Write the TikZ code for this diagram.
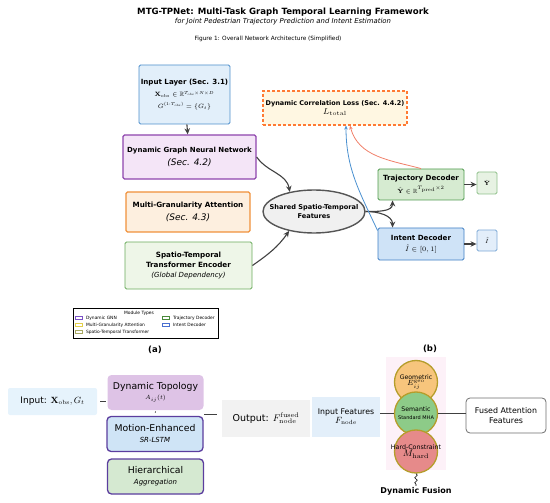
\RequirePackage{fix-cm}
\documentclass[tikz,border=0pt]{standalone}
\usepackage{amsmath,amssymb}
\usepackage[no-math]{fontspec}
\setmainfont{DejaVu Sans}
\usetikzlibrary{arrows.meta, positioning, shapes.geometric, decorations.pathmorphing}

\definecolor{infl}{HTML}{E2EFFA}\definecolor{inbd}{HTML}{4D8FCC}
\definecolor{dgfl}{HTML}{F4E5F7}\definecolor{dgbd}{HTML}{8E44AD}
\definecolor{mgfl}{HTML}{FDEFDF}\definecolor{mgbd}{HTML}{F0913A}
\definecolor{stfl}{HTML}{EEF6E8}\definecolor{stbd}{HTML}{6AAB5C}
\definecolor{elfl}{HTML}{F0F0F0}\definecolor{elbd}{HTML}{555555}
\definecolor{lsfl}{HTML}{FFF7E2}\definecolor{lsbd}{HTML}{FF7A33}
\definecolor{trfl}{HTML}{D6EBD1}\definecolor{trbd}{HTML}{4E9A4E}
\definecolor{itfl}{HTML}{CFE3F7}\definecolor{itbd}{HTML}{3F7FC4}
\definecolor{yhfl}{HTML}{E7F2E3}\definecolor{yhbd}{HTML}{8FC08A}
\definecolor{ihfl}{HTML}{E3EEFA}\definecolor{ihbd}{HTML}{7EA9D6}
\definecolor{agray}{HTML}{404040}
\definecolor{lsred}{HTML}{F0806A}\definecolor{lsblu}{HTML}{4A90D0}
\definecolor{lgpur}{HTML}{7B52C7}\definecolor{lgyel}{HTML}{E3D04A}
\definecolor{lgoli}{HTML}{A8A862}\definecolor{lggrn}{HTML}{4A8A3A}
\definecolor{lgblu}{HTML}{4A6FD0}
\definecolor{bin}{HTML}{E6F3FC}\definecolor{btopo}{HTML}{DEC3E6}
\definecolor{bmot}{HTML}{CFE4F6}\definecolor{bhier}{HTML}{D5E9D1}
\definecolor{bstk}{HTML}{5B3D9E}\definecolor{bout}{HTML}{F2F2F2}
\definecolor{bfeat}{HTML}{E3EFFA}\definecolor{cgeo}{HTML}{F7C57C}
\definecolor{csem}{HTML}{8DCB88}\definecolor{chard}{HTML}{E68A8A}
\definecolor{cring}{HTML}{B59D2B}\definecolor{bpink}{HTML}{FDF1F8}
\definecolor{fubd}{HTML}{6E6E6E}

\begin{document}
\begin{tikzpicture}[x=1pt, y=1pt,
  every node/.style={inner sep=1pt, align=center},
  modbox/.style={draw, line width=0.9pt, rounded corners=1.5pt},
  hd/.style={font=\fontsize{7}{8.4}\selectfont},
  arr/.style={-{Stealth[length=6pt, width=5.5pt]}, draw=agray, line width=1.1pt},
  lossarr/.style={-{Stealth[length=4pt, width=3.5pt]}, line width=0.8pt},
  swatch/.style={draw, fill=white, line width=0.6pt, minimum width=7, minimum height=3.5, inner sep=0pt},
  lgtext/.style={font=\fontsize{4.4}{5}\selectfont, inner sep=0pt},
  stk/.style={rounded corners=4pt, minimum width=96, minimum height=35, font=\fontsize{9.3}{10}\selectfont},
  conn/.style={draw=black!75, line width=0.9pt},
  ring/.style={circle, draw=cring, line width=1.3pt, minimum size=43, inner sep=0pt}]
\useasboundingbox (0,0) rectangle (550,-503);

% titles
\node[font=\fontsize{8.6}{9}\selectfont\bfseries] (title) at (283,-12) {MTG-TPNet: Multi-Task Graph Temporal Learning Framework};
\node[font=\fontsize{6.9}{7}\selectfont\itshape] (subtitle) at (283,-21.5) {for Joint Pedestrian Trajectory Prediction and Intent Estimation};
\node[font=\fontsize{5.8}{6}\selectfont] (caption) at (268,-39) {Figure 1: Overall Network Architecture (Simplified)};

% (a) modules
\node[modbox, draw=inbd, fill=infl, minimum width=91, minimum height=59, font=\fontsize{6.2}{7.4}\selectfont] (inlayer) at (184.5,-94.5)
  {{\fontsize{7.1}{8}\selectfont\bfseries Input Layer (Sec. 3.1)}\\[5pt]
   $\mathbf{X}_{\mathrm{obs}}\in\mathbb{R}^{T_{\mathrm{obs}}\times N\times D}$\\[4pt]
   $G^{(1:T_{\mathrm{obs}})}=\{G_t\}$};
\node[modbox, draw=dgbd, fill=dgfl, line width=1.3pt, minimum width=133, minimum height=44, hd] (dgnn) at (189.5,-157)
  {{\bfseries Dynamic Graph Neural Network}\\[5pt]{\fontsize{9}{9.5}\selectfont\itshape (Sec. 4.2)}};
\node[modbox, draw=mgbd, fill=mgfl, line width=1.3pt, minimum width=124, minimum height=40, hd] (mga) at (188,-212)
  {{\fontsize{7.2}{8}\selectfont\bfseries Multi-Granularity Attention}\\[4pt]{\fontsize{9}{9.5}\selectfont\itshape (Sec. 4.3)}};
\node[modbox, draw=stbd, fill=stfl, minimum width=127, minimum height=47, font=\fontsize{7.2}{8.4}\selectfont] (stte) at (188.5,-265.5)
  {{\bfseries Spatio-Temporal}\\[2pt]{\bfseries Transformer Encoder}\\[2pt]{\fontsize{7}{8}\selectfont\itshape (Global Dependency)}};

\node[ellipse, draw=elbd, fill=elfl, line width=1.4pt, minimum width=102, minimum height=43, inner sep=0pt] (shared) at (314,-211.5) {};
\node[font=\fontsize{6.6}{7.8}\selectfont] (sharedtxt) at (shared) {\bfseries Shared Spatio-Temporal\\[2pt]\bfseries Features};

\node[draw=lsbd, fill=lsfl, dash pattern=on 3pt off 2pt, line width=1.2pt, minimum width=144, minimum height=34, font=\fontsize{6.5}{7.8}\selectfont] (loss) at (335,-108)
  {{\bfseries Dynamic Correlation Loss (Sec. 4.4.2)}\\[1pt]{\fontsize{8.5}{9.5}\selectfont $L_{\mathrm{total}}$}};

\node[modbox, draw=trbd, fill=trfl, minimum width=86, minimum height=31, inner sep=0pt, font=\fontsize{7.1}{8}\selectfont] (traj) at (421,-184.5)
  {{\bfseries Trajectory Decoder}\\[3pt]{\fontsize{6}{7}\selectfont $\hat{\mathbf{Y}}\in\mathbb{R}^{T_{\mathrm{pred}}\times 2}$}};
\node[modbox, draw=itbd, fill=itfl, minimum width=86, minimum height=32, inner sep=0pt, font=\fontsize{7.1}{8}\selectfont] (intent) at (421,-244)
  {{\bfseries Intent Decoder}\\[3pt]{\fontsize{6.8}{7.5}\selectfont $\hat{I}\in[0,1]$}};
\node[modbox, draw=yhbd, fill=yhfl, minimum width=20, minimum height=22, font=\fontsize{6}{7}\selectfont] (yhat) at (487,-183) {$\hat{\mathbf{Y}}$};
\node[modbox, draw=ihbd, fill=ihfl, minimum width=20, minimum height=21, font=\fontsize{6}{7}\selectfont] (ihat) at (487,-240.5) {$\hat{I}$};

% (a) connectors
\draw[arr] (inlayer) -- (dgnn);
\draw[arr] (dgnn.east) to[out=-55, in=100] (shared.141);
\draw[arr] (stte.east) to[out=35, in=-125] (shared.218);
\draw[arr] (shared.east) to[out=0, in=-90] ([xshift=15pt]traj.south west);
\draw[arr] (shared.east) to[out=0, in=90] ([xshift=15pt]intent.north west);
\draw[arr] (traj.east) -- (traj.east -| yhat.west);
\draw[arr] (intent.east) -- (intent.east -| ihat.west);
\draw[lossarr, draw=lsred] (traj.north) to[out=165, in=-75] ([xshift=15pt]loss.south);
\draw[lossarr, draw=lsblu] ([yshift=-3pt]intent.north west) to[out=115, in=-90] ([xshift=11pt]loss.south);

% legend
\node[draw=black, line width=0.5pt, fill=white, minimum width=145, minimum height=30, anchor=north west, inner sep=0pt] (legend) at (73,-308) {};
\node[lgtext] (lgtitle) at (139,-313) {Module Types};
\foreach \i/\c/\t/\x/\y in {1/lgpur/Dynamic GNN/75/318, 2/lgyel/Multi-Granularity Attention/75/325,
    3/lgoli/Spatio-Temporal Transformer/75/332, 4/lggrn/Trajectory Decoder/162/318, 5/lgblu/Intent Decoder/162/325}{
  \node[swatch, draw=\c] (sw\i) at (\x+3.5,-\y) {};
  \node[lgtext, right=3.5pt of sw\i] (lg\i) {\t};
}
\node[font=\fontsize{8.5}{9}\selectfont\bfseries] (laba) at (155,-350) {(a)};

% (b) modules
\node[fill=bin, rounded corners=2pt, minimum width=89, minimum height=27, font=\fontsize{9}{10}\selectfont] (binput) at (52.5,-401.5)
  {Input: $\mathbf{X}_{\mathrm{obs}}, G_t$};
\node[stk, fill=btopo] (topo) at (155.5,-392.5) {Dynamic Topology\\[0pt]{\fontsize{6}{7}\selectfont $A_{ij}(t)$}};
\node[stk, draw=bstk, line width=1.3pt, fill=bmot] (motion) at (155,-434) {Motion-Enhanced\\[1pt]{\fontsize{7}{8}\selectfont\itshape SR-LSTM}};
\node[stk, draw=bstk, line width=1.3pt, fill=bhier] (hier) at (155.5,-476.5) {Hierarchical\\[1pt]{\fontsize{7}{8}\selectfont\itshape Aggregation}};
\coordinate (stkout) at (204,-414);

\node[fill=bout, minimum width=88, minimum height=37, font=\fontsize{9.5}{10}\selectfont] (output) at (266,-418.5)
  {Output: $F^{\mathrm{fused}}_{\mathrm{node}}$};
\node[fill=bfeat, minimum width=68, minimum height=40, font=\fontsize{7.8}{8.8}\selectfont] (infeat) at (346,-417)
  {Input Features\\[0pt]{\fontsize{9}{10}\selectfont $F_{\mathrm{node}}$}};

\fill[bpink] (386,-357) rectangle (446,-470);
\node[ring, fill=cgeo] (geo) at (416,-382) {};
\node[ring, fill=csem] (sem) at (416,-413.5) {};
\node[ring, fill=chard] (hard) at (416,-451.5) {};
\node[font=\fontsize{6.2}{6.5}\selectfont] (geotxt) at (geo) {Geometric\\[0pt]{\fontsize{7.5}{8}\selectfont $E^{\mathrm{geo}}_{ij}$}};
\node[font=\fontsize{6.2}{7}\selectfont] (semtxt) at (sem) {Semantic\\[1pt]{\fontsize{5}{5.5}\selectfont Standard MHA}};
\node[font=\fontsize{6.3}{7}\selectfont] (hardtxt) at (hard) {Hard-Constraint\\[0pt]{\fontsize{9.5}{10}\selectfont $M_{\mathrm{hard}}$}};
\node[font=\fontsize{8}{8.5}\selectfont\bfseries] (fusion) at (416,-491) {Dynamic Fusion};
\node[draw=fubd, fill=white, rounded corners=4pt, line width=0.8pt, minimum width=80, minimum height=35, font=\fontsize{7.9}{9}\selectfont] (fused) at (506,-415.5)
  {Fused Attention\\[1pt]Features};
\node[font=\fontsize{8.5}{9}\selectfont\bfseries] (labb) at (430,-349) {(b)};

% (b) connectors
\draw[conn, shorten <=3pt, shorten >=1pt] (binput.east) -- (binput.east -| topo.west);
\draw[conn, line width=0.6pt, shorten <=1pt, shorten >=3pt] (topo.south) -- (motion.north);
\draw[conn, shorten >=5pt] (stkout) -- (stkout -| output.west);
\draw[conn] (infeat.east |- sem.west) -- (sem.west);
\draw[conn] (sem.east) -- (sem.east -| fused.west);
\draw[decorate, decoration={snake, amplitude=1.3pt, segment length=5pt}, line width=0.6pt] (hard.south) -- (fusion.north);
\end{tikzpicture}
\end{document}
